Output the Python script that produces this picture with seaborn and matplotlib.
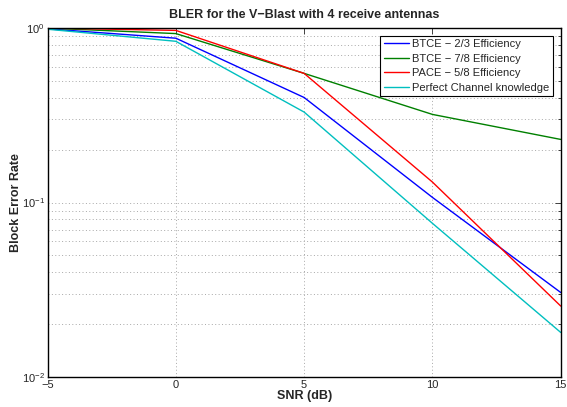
import matplotlib
matplotlib.use("Agg")
import matplotlib.pyplot as plt
import seaborn as sns
import pandas as pd
from matplotlib.ticker import LogLocator, FixedLocator

snr = [-5, 0, 5, 10, 15]
btce_23 = [0.99, 0.875, 0.40, 0.107, 0.0305]
btce_78 = [1.0, 0.93, 0.55, 0.32, 0.23]
pace_58 = [1.0, 0.97, 0.55, 0.131, 0.0255]
perfect = [0.985, 0.84, 0.33, 0.076, 0.018]
series_names = ["BTCE − 2/3 Efficiency", "BTCE − 7/8 Efficiency",
                "PACE − 5/8 Efficiency", "Perfect Channel knowledge"]
series_vals = [btce_23, btce_78, pace_58, perfect]
colors = ["#0000ff", "#008000", "#ff0000", "#00bfbf"]

rows = []
for name, vals in zip(series_names, series_vals):
    for x, y in zip(snr, vals):
        rows.append({"SNR": x, "BLER": y, "Series": name})
df = pd.DataFrame(rows)

sns.set_style("white")
plt.rcParams['font.family'] = ['Liberation Sans', 'DejaVu Sans']
plt.rcParams['mathtext.fontset'] = 'custom'
plt.rcParams['mathtext.rm'] = 'Liberation Sans'
plt.rcParams['mathtext.it'] = 'Liberation Sans'

fig = plt.figure(figsize=(5.67, 4.07), dpi=100)
ax = fig.add_axes([0.0838, 0.0737, 0.9052, 0.8573])

sns.lineplot(data=df, x="SNR", y="BLER", hue="Series", hue_order=series_names,
             palette=colors, linewidth=1.0, ax=ax, legend=True)

ax.set_yscale("log")
ax.set_xlim(-5, 15)
ax.set_ylim(1e-2, 1)
ax.xaxis.set_major_locator(FixedLocator(snr))
ax.yaxis.set_major_locator(LogLocator(base=10, numticks=10))
ax.yaxis.set_minor_locator(LogLocator(base=10, subs=range(2, 10), numticks=20))

ax.grid(True, which="major", axis="both", linestyle=(0, (1, 2.5)), color="#a8a8a8", linewidth=0.7)
ax.grid(True, which="minor", axis="y", linestyle=(0, (1, 2.5)), color="#a8a8a8", linewidth=0.7)

ax.tick_params(axis="both", which="both", direction="in", top=True, right=True,
               labelsize=8, pad=2)
ax.tick_params(axis="both", which="major", length=4, width=0.6)
ax.tick_params(axis="y", which="minor", length=2, width=0.6)
for s in ax.spines.values():
    s.set_color("black")
    s.set_linewidth(1.0)

ax.set_xticklabels(["−5", "0", "5", "10", "15"])
ax.set_title("BLER for the V−Blast with 4 receive antennas", fontsize=9,
             fontweight="bold", pad=7)
ax.set_xlabel("SNR (dB)", fontsize=9, fontweight="bold", labelpad=0)
ax.set_ylabel("Block Error Rate", fontsize=9, fontweight="bold", labelpad=0)

leg = ax.legend(loc="upper right", fontsize=8, frameon=True, fancybox=False,
                handlelength=2.3, handletextpad=0.3, borderpad=0.3,
                labelspacing=0.4, borderaxespad=0.7)
leg.get_frame().set_edgecolor("black")
leg.get_frame().set_linewidth(0.8)
leg.get_frame().set_alpha(1)

fig.savefig("out.png", dpi=100)
